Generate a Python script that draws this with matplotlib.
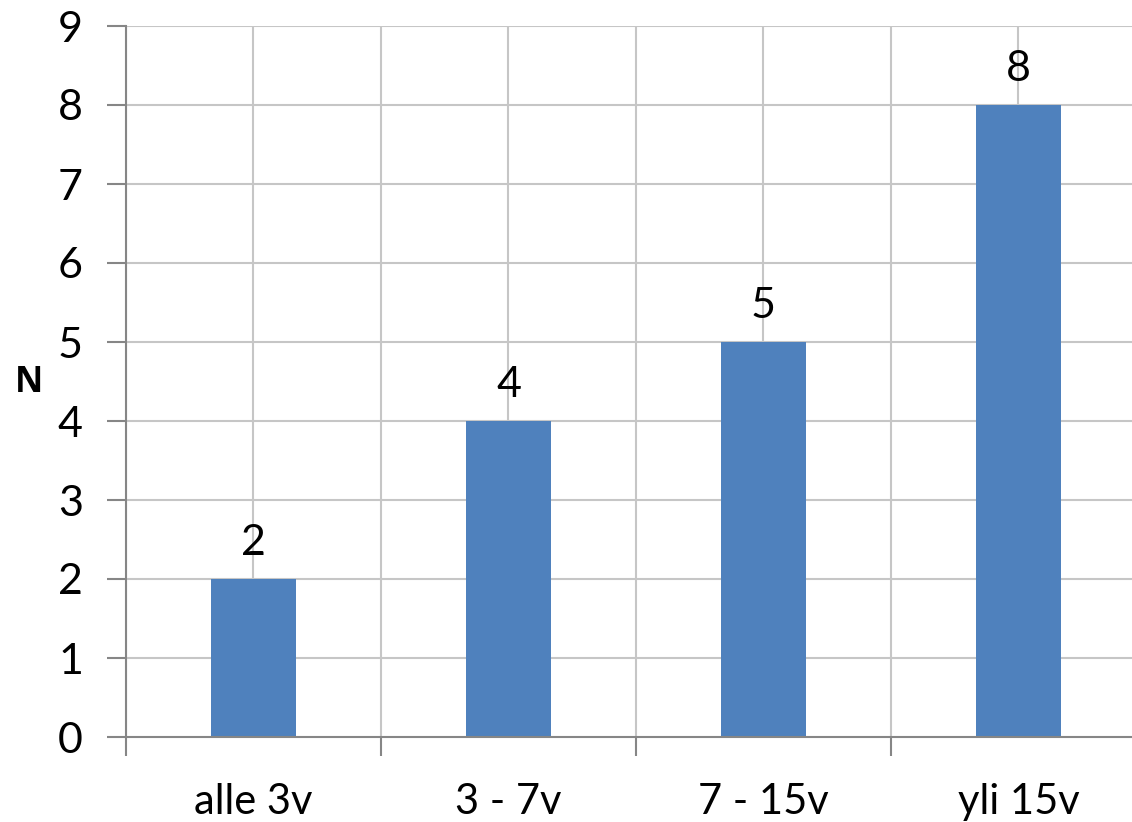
import matplotlib
matplotlib.use("Agg")
import matplotlib.pyplot as plt
import numpy as np

categories = ["alle 3v", "3 - 7v", "7 - 15v", "yli 15v"]
values = [2, 4, 5, 8]
y_ticks = list(range(0, 10))

plt.rcParams['font.family'] = ['Lato', 'DejaVu Sans']

fig = plt.figure(figsize=(11.32, 8.22), dpi=100)
ax = fig.add_axes([126/1132, 85/822, 1020/1132, 711/822])

x = np.arange(len(categories))
bars = ax.bar(x, values, width=1/3, color="#4f81bd", zorder=3)
for xi, v in zip(x, values):
    ax.text(xi, v + 0.22, str(v), ha="center", va="bottom", fontsize=31, color="black", zorder=4)

ax.set_xlim(-0.5, len(categories) - 0.5)
ax.set_ylim(0, 9)
ax.set_yticks(y_ticks)
ax.set_yticklabels([str(t) for t in y_ticks])

for gx in np.arange(-0.5, len(categories), 0.5):
    ax.axvline(gx, color="#c6c6c6", lw=1.5, zorder=1)
for gy in y_ticks[1:]:
    ax.axhline(gy, color="#c6c6c6", lw=1.5, zorder=1)

ax.set_xticks(np.arange(-0.5, len(categories), 1.0))
ax.set_xticklabels([])
ax.set_xticks(x, minor=True)
ax.set_xticklabels(categories, minor=True)
ax.tick_params(axis="x", which="minor", length=0, pad=33, labelsize=30)
ax.tick_params(axis="x", which="major", length=14, width=1.5, color="#868686")
ax.tick_params(axis="y", length=14, width=1.5, color="#868686", pad=17, labelsize=31)

for s in ["top", "right"]:
    ax.spines[s].set_visible(False)
for s in ["left", "bottom"]:
    ax.spines[s].set_color("#868686")
    ax.spines[s].set_linewidth(1.5)
    ax.spines[s].set_zorder(5)

fig.text(29/1132, 1 - 383/822, "N", fontsize=25, fontweight="bold", ha="center", va="center",
         family=["Open Sans", "DejaVu Sans"])

fig.savefig("out.png", dpi=100)
